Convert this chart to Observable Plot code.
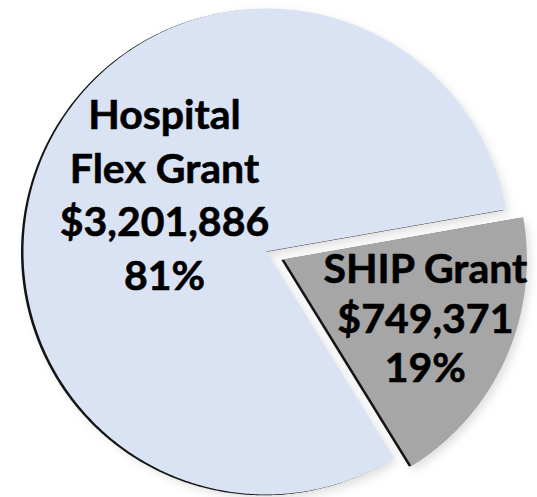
<!DOCTYPE html>
<html><head><meta charset="utf-8">
<script src="https://cdn.jsdelivr.net/npm/d3@7"></script>
<script src="https://cdn.jsdelivr.net/npm/@observablehq/plot@0.6"></script>
<style>
html,body{margin:0;padding:0;background:#fff;}
g[aria-description="soft-shadow"]{filter:blur(5px);}
</style></head><body><div id="chart"></div>
<script>
// ---- data ----
const categories = ["Hospital Flex Grant", "SHIP Grant"];
const nameLines = [["Hospital", "Flex Grant"], ["SHIP Grant"]];
const amounts = [3201886, 749371];
const amountLabels = ["$3,201,886", "$749,371"];
const percentLabels = ["81%", "19%"];
const colors = ["#dae3f3", "#a6a6a6"];

// ---- layout ----
const W = 537, H = 497;
const CX = 266, CY = 251, R = 243;      // pie centre and radius in pixels
const startDeg = 148.3;                  // where the first slice starts (clockwise from 12 o'clock)
const explode = [0, 19 / R];             // slice offset, in radii
const labelRadius = [0.485, 0.629];      // label distance from slice vertex, in radii
const labelTurn = [5.9, -2];             // small angular nudge of the label, degrees
const lineHeights = [1.31, 1.21];
const fontSize = 41;

const a0 = startDeg * Math.PI / 180;
const arcs = d3.pie().sort(null).startAngle(a0).endAngle(a0 + 2 * Math.PI)(amounts);

function pt(a, r, ox, oy) { return [ox + r * Math.sin(a), oy - r * Math.cos(a)]; }

const slices = arcs.map((a, i) => {
  const mid = (a.startAngle + a.endAngle) / 2;
  const [ox, oy] = pt(mid, explode[i], 0, 0);
  const ring = [[ox, oy]];
  const n = Math.max(2, Math.ceil((a.endAngle - a.startAngle) / (Math.PI / 360)));
  for (let k = 0; k <= n; k++) ring.push(pt(a.startAngle + (a.endAngle - a.startAngle) * k / n, 1, ox, oy));
  ring.push([ox, oy]);
  const [lx, ly] = pt(mid + labelTurn[i] * Math.PI / 180, labelRadius[i], ox, oy);
  return {
    type: "Feature",
    properties: {
      index: i,
      category: categories[i],
      text: [...nameLines[i], amountLabels[i], percentLabels[i]].join("\n"),
      lx, ly
    },
    geometry: {type: "Polygon", coordinates: [ring]}
  };
});

const x0 = -CX / R, x1 = (W - CX) / R, y0 = -CY / R, y1 = (H - CY) / R;
const frameDomain = {type: "Polygon", coordinates: [[[x0, y0], [x1, y0], [x1, y1], [x0, y1], [x0, y0]]]};

const textMark = (i) => Plot.text(slices.filter(d => d.properties.index === i), {
  x: d => d.properties.lx,
  y: d => d.properties.ly,
  text: d => d.properties.text,
  fontSize,
  fontWeight: "bold",
  fill: "#000",
  stroke: "#000",
  strokeWidth: 0.6,
  lineHeight: lineHeights[i],
  lineAnchor: "middle",
  textAnchor: "middle"
});

const chart = Plot.plot({
  width: W,
  height: H,
  margin: 0,
  style: {fontFamily: "Lato, 'Open Sans', sans-serif", background: "#fff"},
  projection: {type: "identity", domain: frameDomain},
  color: {domain: categories, range: colors},
  marks: [
    Plot.geo(slices, {fill: "#000", fillOpacity: 0.13, dx: 3, dy: 4, ariaDescription: "soft-shadow"}),
    Plot.geo(slices, {fill: "#151515", dx: -2.5, dy: 0.8}),
    Plot.geo(slices, {fill: d => d.properties.category}),
    textMark(0),
    textMark(1)
  ]
});
document.getElementById("chart").appendChild(chart);
</script>
</body></html>
